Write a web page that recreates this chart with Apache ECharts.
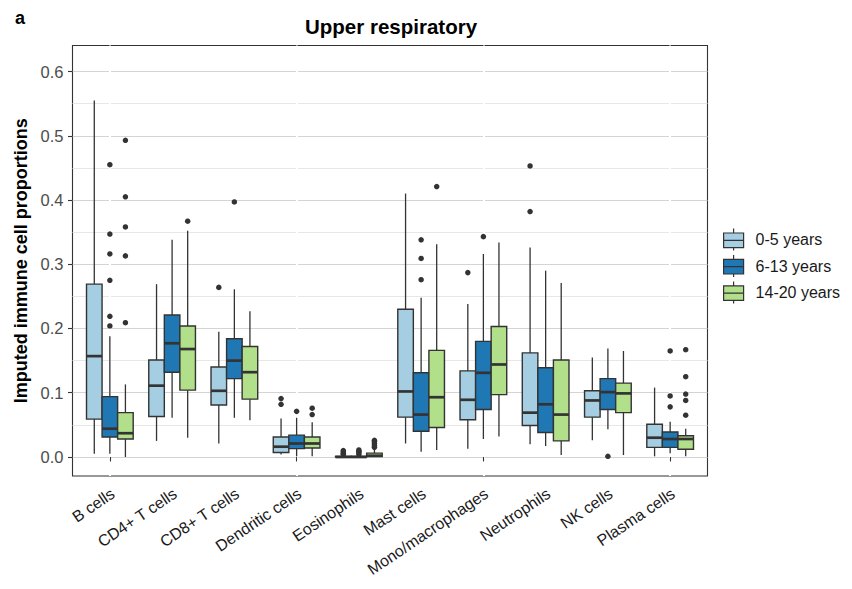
<!DOCTYPE html>
<html>
<head>
<meta charset="utf-8">
<script src="https://cdn.jsdelivr.net/npm/echarts@6/dist/echarts.min.js"></script>
<style>html,body{margin:0;padding:0;background:#fff}#chart{width:852px;height:589px}</style>
</head>
<body>
<div id="chart"></div>
<script>
// ---------- data ----------
const categories = ['B cells','CD4+ T cells','CD8+ T cells','Dendritic cells','Eosinophils','Mast cells','Mono/macrophages','Neutrophils','NK cells','Plasma cells'];
const groups = ['0-5 years','6-13 years','14-20 years'];
const yTicks = [0.0, 0.1, 0.2, 0.3, 0.4, 0.5, 0.6];

// [lower whisker, Q1, median, Q3, upper whisker] per category
const box0to5 = [
  [0.005, 0.059, 0.157, 0.269, 0.555],
  [0.025, 0.063, 0.111, 0.151, 0.269],
  [0.021, 0.081, 0.103, 0.140, 0.195],
  [0.004, 0.007, 0.016, 0.031, 0.060],
  [0.000, 0.000, 0.000, 0.001, 0.002],
  [0.021, 0.062, 0.102, 0.230, 0.410],
  [0.013, 0.058, 0.089, 0.134, 0.238],
  [0.020, 0.049, 0.069, 0.162, 0.326],
  [0.026, 0.062, 0.088, 0.103, 0.155],
  [0.001, 0.015, 0.030, 0.051, 0.108]
];
const box6to13 = [
  [0.005, 0.031, 0.044, 0.094, 0.188],
  [0.061, 0.132, 0.177, 0.221, 0.338],
  [0.061, 0.122, 0.150, 0.184, 0.261],
  [0.001, 0.013, 0.021, 0.034, 0.061],
  [0.000, 0.000, 0.000, 0.001, 0.002],
  [0.008, 0.040, 0.066, 0.131, 0.248],
  [0.028, 0.074, 0.131, 0.180, 0.316],
  [0.017, 0.038, 0.082, 0.139, 0.290],
  [0.043, 0.074, 0.101, 0.122, 0.169],
  [0.006, 0.015, 0.028, 0.039, 0.055]
];
const box14to20 = [
  [0.000, 0.028, 0.037, 0.069, 0.113],
  [0.030, 0.104, 0.168, 0.204, 0.352],
  [0.057, 0.090, 0.132, 0.172, 0.227],
  [0.001, 0.014, 0.021, 0.031, 0.054],
  [0.000, 0.0005, 0.002, 0.006, 0.012],
  [0.011, 0.046, 0.093, 0.166, 0.331],
  [0.032, 0.097, 0.144, 0.203, 0.334],
  [0.003, 0.025, 0.066, 0.151, 0.271],
  [0.003, 0.069, 0.099, 0.115, 0.165],
  [0.001, 0.012, 0.028, 0.033, 0.044]
];
// outliers: [category index, value]
const out0to5 = [
  [2, 0.264], [3, 0.091], [3, 0.082],
  [4, 0.004], [4, 0.006], [4, 0.008], [4, 0.010],
  [6, 0.287], [7, 0.453], [7, 0.382]
];
const out6to13 = [
  [0, 0.455], [0, 0.347], [0, 0.316], [0, 0.275], [0, 0.219], [0, 0.204],
  [2, 0.397], [3, 0.071],
  [4, 0.004], [4, 0.007], [4, 0.009], [4, 0.011],
  [5, 0.338], [5, 0.309], [5, 0.276],
  [6, 0.343], [8, 0.001],
  [9, 0.165], [9, 0.095], [9, 0.078]
];
const out14to20 = [
  [0, 0.493], [0, 0.405], [0, 0.358], [0, 0.313], [0, 0.209],
  [1, 0.367], [3, 0.076], [3, 0.066],
  [4, 0.015], [4, 0.018], [4, 0.021], [4, 0.024], [4, 0.026],
  [5, 0.421],
  [9, 0.167], [9, 0.125], [9, 0.098], [9, 0.088], [9, 0.065]
];

// ---------- styling / layout ----------
const fills = ['#a6cee3', '#1f78b4', '#b2df8a'];
const ink = '#333333';
const FONT = '"Liberation Sans", Arial, Helvetica, sans-serif';
const Y_MIN = -0.0296, Y_MAX = 0.6405;
const panel = {left: 72.5, right: 144.5, top: 45.5, bottom: 113};
const PANEL_W = 852 - panel.left - panel.right;
const BAND = PANEL_W / 10.2;
const DODGE = BAND * 0.25;
const LABEL_SHIFT = 3;

const boxes = [box0to5, box6to13, box14to20];
const outs = [out0to5, out6to13, out14to20];

function renderBox(k) {
  return function (params, api) {
    const ci = api.value(0);
    const band = api.size([1, 0])[0];
    const w = band * 0.25;
    const cx = api.coord([ci, 0])[0] + (k - 1) * w;
    const y = function (i) { return api.coord([ci, api.value(i)])[1]; };
    const yLo = y(1), yQ1 = y(2), yMed = y(3), yQ3 = y(4), yHi = y(5);
    return {
      type: 'group',
      children: [
        {type: 'line', shape: {x1: cx, y1: yHi, x2: cx, y2: yQ3}, style: {stroke: ink, lineWidth: 1.3}},
        {type: 'line', shape: {x1: cx, y1: yQ1, x2: cx, y2: yLo}, style: {stroke: ink, lineWidth: 1.3}},
        {type: 'rect', shape: {x: cx - w / 2, y: yQ3, width: w, height: Math.max(yQ1 - yQ3, 0.6)},
         style: {fill: fills[k], stroke: ink, lineWidth: 1.4}},
        {type: 'line', shape: {x1: cx - w / 2, y1: yMed, x2: cx + w / 2, y2: yMed}, style: {stroke: ink, lineWidth: 2.7}}
      ]
    };
  };
}

const series = [];
groups.forEach(function (g, k) {
  series.push({
    name: g, type: 'custom', xAxisIndex: 1, yAxisIndex: 1,
    itemStyle: {color: fills[k], borderColor: ink, borderWidth: 1.2},
    renderItem: renderBox(k),
    encode: {x: 0, y: [1, 2, 3, 4, 5]},
    data: boxes[k].map(function (b, i) { return [i].concat(b); }),
    z: 2
  });
});
groups.forEach(function (g, k) {
  series.push({
    name: g, type: 'scatter', xAxisIndex: 1, yAxisIndex: 1,
    symbol: 'circle', symbolSize: 5.5, symbolOffset: [(k - 1) * DODGE, 0],
    itemStyle: {color: ink, opacity: 1},
    silent: true, z: 3,
    data: outs[k]
  });
});

const legendIcon = 'path://M10 0 L10 4.4 M0 4.4 L20 4.4 L20 19 L0 19 Z M0 11.7 L20 11.7 M10 19 L10 22';

const option = {
  animation: false,
  backgroundColor: '#ffffff',
  textStyle: {fontFamily: FONT},
  title: [
    {text: 'Upper respiratory', left: 300, top: 11,
     textStyle: {fontSize: 20.5, fontWeight: 'bold', color: '#000', fontFamily: FONT}},
    {text: 'a', left: 10, top: 4,
     textStyle: {fontSize: 18, fontWeight: 'bold', color: '#000', fontFamily: FONT}}
  ],
  legend: {
    orient: 'vertical', left: 723, top: 228, padding: 0,
    itemWidth: 20, itemHeight: 22, itemGap: 3.2,
    selectedMode: false,
    textStyle: {fontSize: 16, color: '#1a1a1a', fontFamily: FONT, padding: [0, 0, 0, 7]},
    itemStyle: {borderColor: ink, borderWidth: 1.2},
    data: groups.map(function (g, k) {
      return {name: g, icon: legendIcon, itemStyle: {color: fills[k], borderColor: ink, borderWidth: 1.2}};
    })
  },
  grid: [
    {left: panel.left, right: panel.right, top: panel.top, bottom: panel.bottom,
     show: true, borderColor: ink, borderWidth: 1.1, backgroundColor: 'transparent'},
    {left: panel.left + 0.6 * BAND, right: panel.right + 0.6 * BAND, top: panel.top, bottom: panel.bottom},
    {left: panel.left + 0.6 * BAND + LABEL_SHIFT, right: panel.right + 0.6 * BAND - LABEL_SHIFT, top: panel.top, bottom: panel.bottom}
  ],
  xAxis: [
    {type: 'value', gridIndex: 0, min: 0, max: 1, show: false},
    {type: 'category', gridIndex: 1, data: categories, boundaryGap: false,
     axisLine: {show: false},
     axisTick: {show: true, length: 4.5, alignWithLabel: true, lineStyle: {color: ink, width: 1.1}},
     axisLabel: {show: false},
     splitLine: {show: true, lineStyle: {color: '#ffffff', width: 2}}},
    {type: 'category', gridIndex: 2, data: categories, boundaryGap: false,
     axisLine: {show: false}, axisTick: {show: false}, splitLine: {show: false},
     axisLabel: {interval: 0, rotate: 34, margin: 16, fontSize: 16, color: '#1a1a1a', fontFamily: FONT}}
  ],
  yAxis: [
    {type: 'value', gridIndex: 0, min: Y_MIN, max: Y_MAX, splitNumber: 6,
     name: 'Imputed immune cell proportions', nameLocation: 'middle', nameGap: 42, nameRotate: 90,
     nameTextStyle: {fontSize: 18, fontWeight: 'bold', color: '#000', fontFamily: FONT},
     axisLine: {show: false},
     axisTick: {show: true, length: 4.5, customValues: yTicks, lineStyle: {color: ink, width: 1.1}},
     axisLabel: {fontSize: 16.5, color: '#4d4d4d', margin: 9, fontFamily: FONT, customValues: yTicks,
       formatter: function (v) { return v.toFixed(1); }},
     splitLine: {show: true, lineStyle: {color: '#d4d4d4', width: 1.2}},
     minorTick: {show: false, splitNumber: 2},
     minorSplitLine: {show: true, lineStyle: {color: '#e4e4e4', width: 0.9}}},
    {type: 'value', gridIndex: 1, min: Y_MIN, max: Y_MAX, show: false},
    {type: 'value', gridIndex: 2, min: Y_MIN, max: Y_MAX, show: false}
  ],
  series: series
};

const chart = echarts.init(document.getElementById('chart'), null, {renderer: 'svg', width: 852, height: 589});
chart.setOption(option);
</script>
</body>
</html>
